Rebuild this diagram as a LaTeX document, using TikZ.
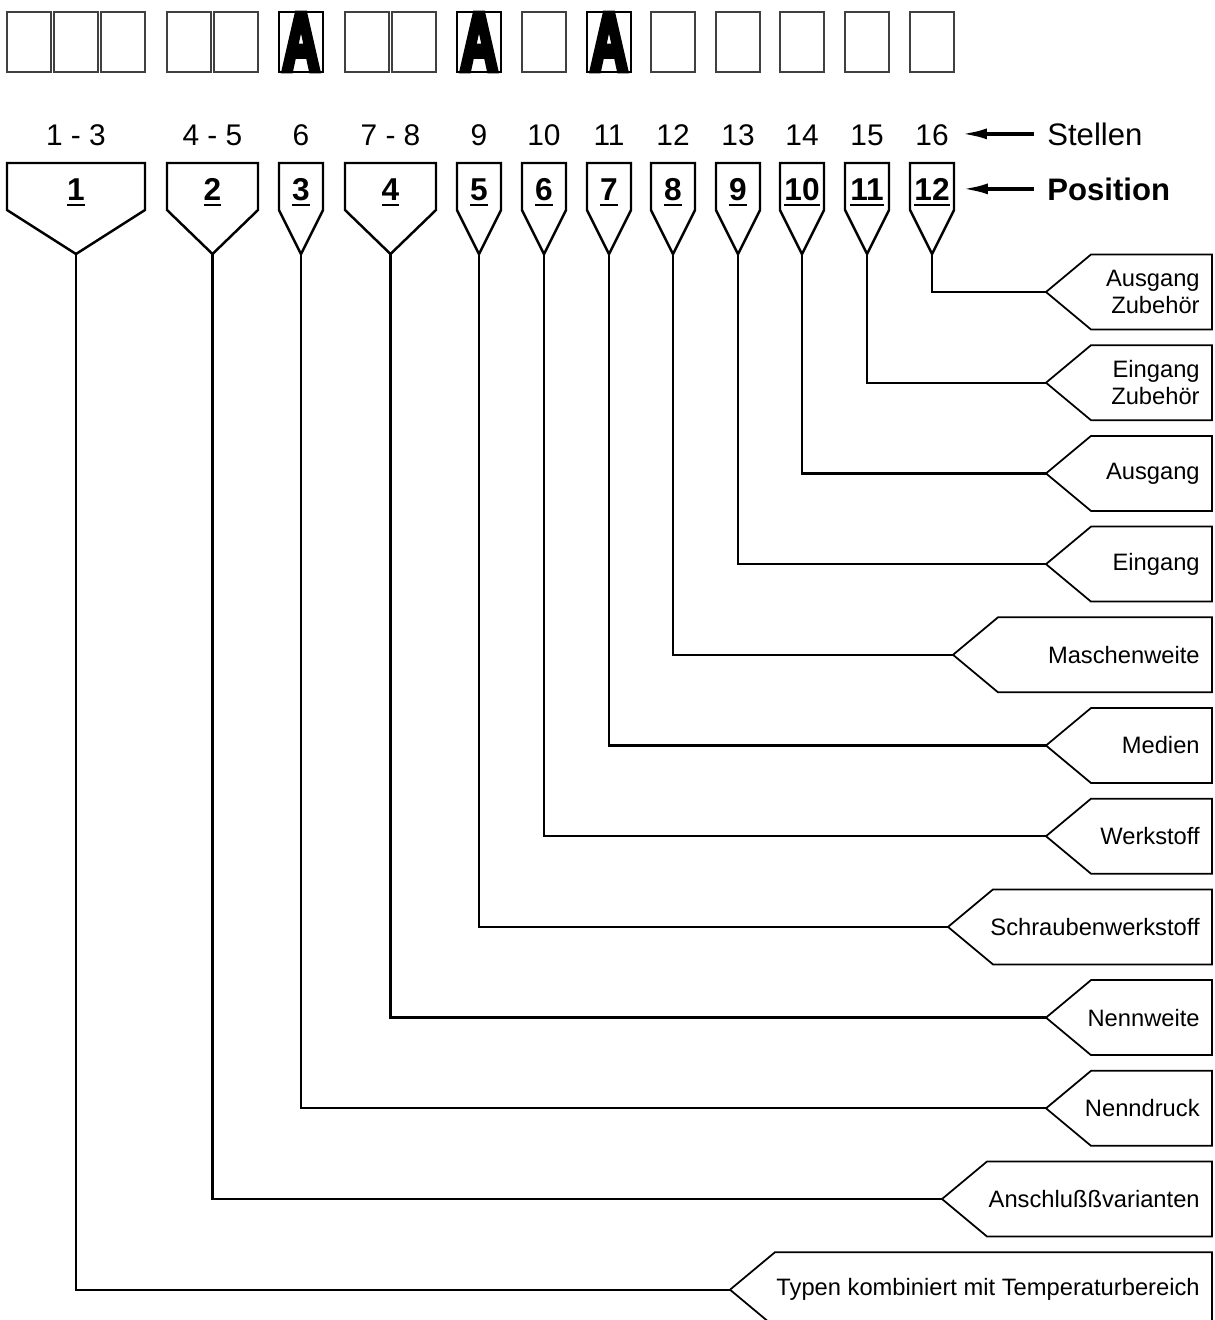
\documentclass[tikz,border=0pt]{standalone}
\usepackage{fontspec}
\setmainfont{Liberation Sans}
\newfontfamily\blockfont{Liberation Sans}[BoldFeatures={FakeBold=8}]
\usetikzlibrary{arrows.meta}
\newcommand\posnr[1]{{\setbox0\hbox{#1}\rlap{\rule[-0.19em]{\wd0}{0.06em}}\box0}}
\tikzset{digit/.style={draw=black!75,line width=0.7pt,minimum width=0.88cm,minimum height=1.2cm,inner sep=0pt},
         fixed/.style={digit,draw=black,line width=1.1pt},
         stelle/.style={font=\fontsize{17}{20}\selectfont,inner sep=0pt,anchor=base},
         posnum/.style={font=\fontsize{18}{21}\selectfont\bfseries,inner sep=0pt,anchor=base},
         heading/.style={font=\fontsize{17.7}{20}\selectfont,inner sep=0pt,anchor=base west},
         postag/.style={line width=1.4pt,line join=miter},
         feld/.style={line width=1pt},
         feldtext/.style={font=\fontsize{13.5}{15.5}\selectfont,align=right,inner sep=0pt,anchor=east},
         lead/.style={line width=1.3pt},
         pfeil/.style={line width=1.9pt,-{Latex[length=0.5cm,width=0.22cm]}},
         x=0.02cm,y=-0.02cm}
\begin{document}
\begin{tikzpicture}
\useasboundingbox (0,0) rectangle (1215,1320);
\foreach \j/\x in {1/7,2/54,3/101,4/167,5/214,7/345,8/392,10/522,12/651,13/716,14/780,15/845,16/910}
  \node[digit] (d\j) at (\x+22,42) {};
\foreach \j/\x in {6/279,9/457,11/587}
  \node[fixed] (d\j) at (\x+22,42) {\resizebox{0.74cm}{1.12cm}{\blockfont\bfseries A}};

\foreach \k/\xl/\xr/\st in {1/7/145/{1 - 3},2/167/258/{4 - 5},3/279/323/6,4/345/436/{7 - 8},5/457/501/9,6/522/566/10,
                            7/587/631/11,8/651/695/12,9/716/760/13,10/780/824/14,11/845/889/15,12/910/954/16}{
  \pgfmathsetmacro\cx{(\xl+\xr)/2}
  \draw[postag] (\xl,163) -- (\xr,163) -- (\xr,210) -- (\cx,254) -- (\xl,210) -- cycle;
  \coordinate (tip\k) at (\cx,254);
  \node[posnum] (pos\k) at (\cx,200) {\posnr{\k}};
  \node[stelle] (st\k) at (\cx,145) {\st};
}

\node[heading] (stellen) at (1047,145) {Stellen};
\node[heading,font=\fontsize{17.7}{20}\selectfont\bfseries] (position) at (1047,200) {Position};
\draw[pfeil] ([xshift=-0.26cm]stellen.west) -- ([xshift=0.26cm]stellen.west -| st12.east);
\draw[pfeil] ([xshift=-0.26cm]position.west) -- ([xshift=0.26cm]position.west -| pos12.east);

\foreach \k/\xp/\txt in {12/1046/{Ausgang\\Zubehör},11/1046/{Eingang\\Zubehör},10/1046/Ausgang,9/1046/Eingang,
                         8/953/Maschenweite,7/1046/Medien,6/1046/Werkstoff,5/948/Schraubenwerkstoff,
                         4/1046/Nennweite,3/1046/Nenndruck,2/942/Anschlußßvarianten,
                         1/730/Typen kombiniert mit Temperaturbereich}{
  \pgfmathsetmacro\yy{292+(12-\k)*90.7}
  \draw[feld] (\xp,\yy) -- (\xp+45,\yy-37.5) -- (1212,\yy-37.5) -- (1212,\yy+37.5) -- (\xp+45,\yy+37.5) -- cycle;
  \coordinate (ptr\k) at (\xp,\yy);
  \node[feldtext] (lab\k) at (1200,\yy) {\txt};
  \draw[lead] (tip\k) |- (ptr\k);
}
\end{tikzpicture}
\end{document}
